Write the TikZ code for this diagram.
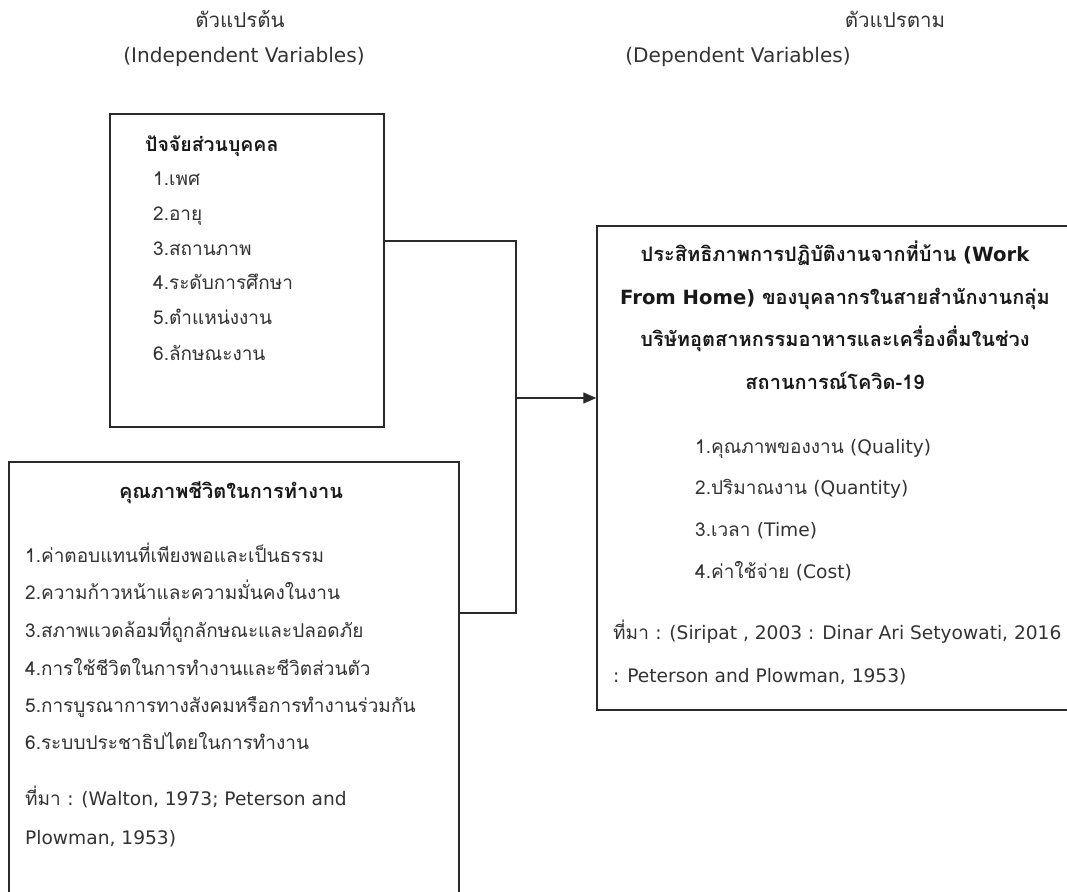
\documentclass[tikz,border=0pt]{standalone}
\usepackage{fontspec}
\setmainfont[Script=Thai]{Loma}
\newfontfamily\latfont[Scale=0.98]{DejaVu Sans}
\newcommand{\lt}[1]{{\latfont #1}}
\usetikzlibrary{arrows.meta}
\definecolor{txt}{HTML}{333333}
\definecolor{ln}{HTML}{2A2A2A}
\tikzset{
  boxs/.style={draw=ln, line width=1.5pt, rectangle, inner sep=0pt},
  conn/.style={draw=ln, line width=1.4pt},
  lbl/.style={anchor=base west, inner sep=0pt, text=txt, font=\fontsize{19}{22}\selectfont},
  ttl/.style={anchor=base, inner sep=0pt, text=black!90, font=\fontsize{20}{23}\selectfont\bfseries},
  ttlw/.style={anchor=base west, inner sep=0pt, text=black!90, font=\fontsize{19.5}{23}\selectfont\bfseries},
  hdr/.style={anchor=base, inner sep=0pt, text=txt, font=\fontsize{20.5}{24}\selectfont},
}
\begin{document}
\begin{tikzpicture}[x=1pt,y=-1pt]
\useasboundingbox (0,0) rectangle (1067,891);
\clip (0,0) rectangle (1067,891);
\fill[white] (0,0) rectangle (1067,891);
% headers
\node[hdr] (h1) at (240,28) {ตัวแปรต้น};
\node[hdr] (h2) at (244,63) {\lt{(Independent Variables)}};
\node[hdr] (h3) at (895,28) {ตัวแปรตาม};
\node[hdr] (h4) at (738,63) {\lt{(Dependent Variables)}};
% boxes
\node[boxs, minimum width=274pt, minimum height=313pt] (b1) at (247,270.5) {};
\node[boxs, minimum width=450pt, minimum height=460pt] (b2) at (234,692) {};
\node[boxs, minimum width=490pt, minimum height=484pt] (b3) at (842,468) {};
% box 1 text
\node[ttlw] (t1) at (145,151) {ปัจจัยส่วนบุคคล};
\node[lbl] (a1) at (153,185) {1.เพศ};
\node[lbl] (a2) at (153,220) {2.อายุ};
\node[lbl] (a3) at (153,255) {3.สถานภาพ};
\node[lbl] (a4) at (153,289) {4.ระดับการศึกษา};
\node[lbl] (a5) at (153,324) {5.ตำแหน่งงาน};
\node[lbl] (a6) at (153,360) {6.ลักษณะงาน};
% box 2 text
\node[ttl] (t2) at (231,498) {คุณภาพชีวิตในการทำงาน};
\node[lbl] (c1) at (25,562) {1.ค่าตอบแทนที่เพียงพอและเป็นธรรม};
\node[lbl] (c2) at (25,599) {2.ความก้าวหน้าและความมั่นคงในงาน};
\node[lbl] (c3) at (25,637) {3.สภาพแวดล้อมที่ถูกลักษณะและปลอดภัย};
\node[lbl] (c4) at (25,675) {4.การใช้ชีวิตในการทำงานและชีวิตส่วนตัว};
\node[lbl] (c5) at (25,712) {5.การบูรณาการทางสังคมหรือการทำงานร่วมกัน};
\node[lbl] (c6) at (25,749) {6.ระบบประชาธิปไตยในการทำงาน};
\node[lbl] (c7) at (25,805) {ที่มา \lt{: (Walton, 1973; Peterson and}};
\node[lbl] (c8) at (25,844) {\lt{Plowman, 1953)}};
% box 3 text
\node[ttl] (t3a) at (835,261) {ประสิทธิภาพการปฏิบัติงานจากที่บ้าน \lt{(Work}};
\node[ttl] (t3b) at (835,304) {\lt{From Home)} ของบุคลากรในสายสำนักงานกลุ่ม};
\node[ttl] (t3c) at (835,346) {บริษัทอุตสาหกรรมอาหารและเครื่องดื่มในช่วง};
\node[ttl] (t3d) at (835,389) {สถานการณ์โควิด-19};
\node[lbl] (d1) at (695,453) {1.คุณภาพของงาน \lt{(Quality)}};
\node[lbl] (d2) at (695,494) {2.ปริมาณงาน \lt{(Quantity)}};
\node[lbl] (d3) at (695,536) {3.เวลา \lt{(Time)}};
\node[lbl] (d4) at (695,578) {4.ค่าใช้จ่าย \lt{(Cost)}};
\node[lbl] (d5) at (613,639) {ที่มา \lt{: (Siripat , 2003 : Dinar Ari Setyowati, 2016}};
\node[lbl] (d6) at (613,682) {\lt{: Peterson and Plowman, 1953)}};
% connectors
\coordinate (j1) at (516,241);
\coordinate (j2) at (516,613);
\coordinate (j3) at (516,398);
\draw[conn] (b1.east |- j1) -- (j1) -- (j2) -- (b2.east |- j2);
\draw[conn, -{Triangle[length=13pt,width=11pt]}] (j3) -- (b3.west |- j3);
\end{tikzpicture}
\end{document}
